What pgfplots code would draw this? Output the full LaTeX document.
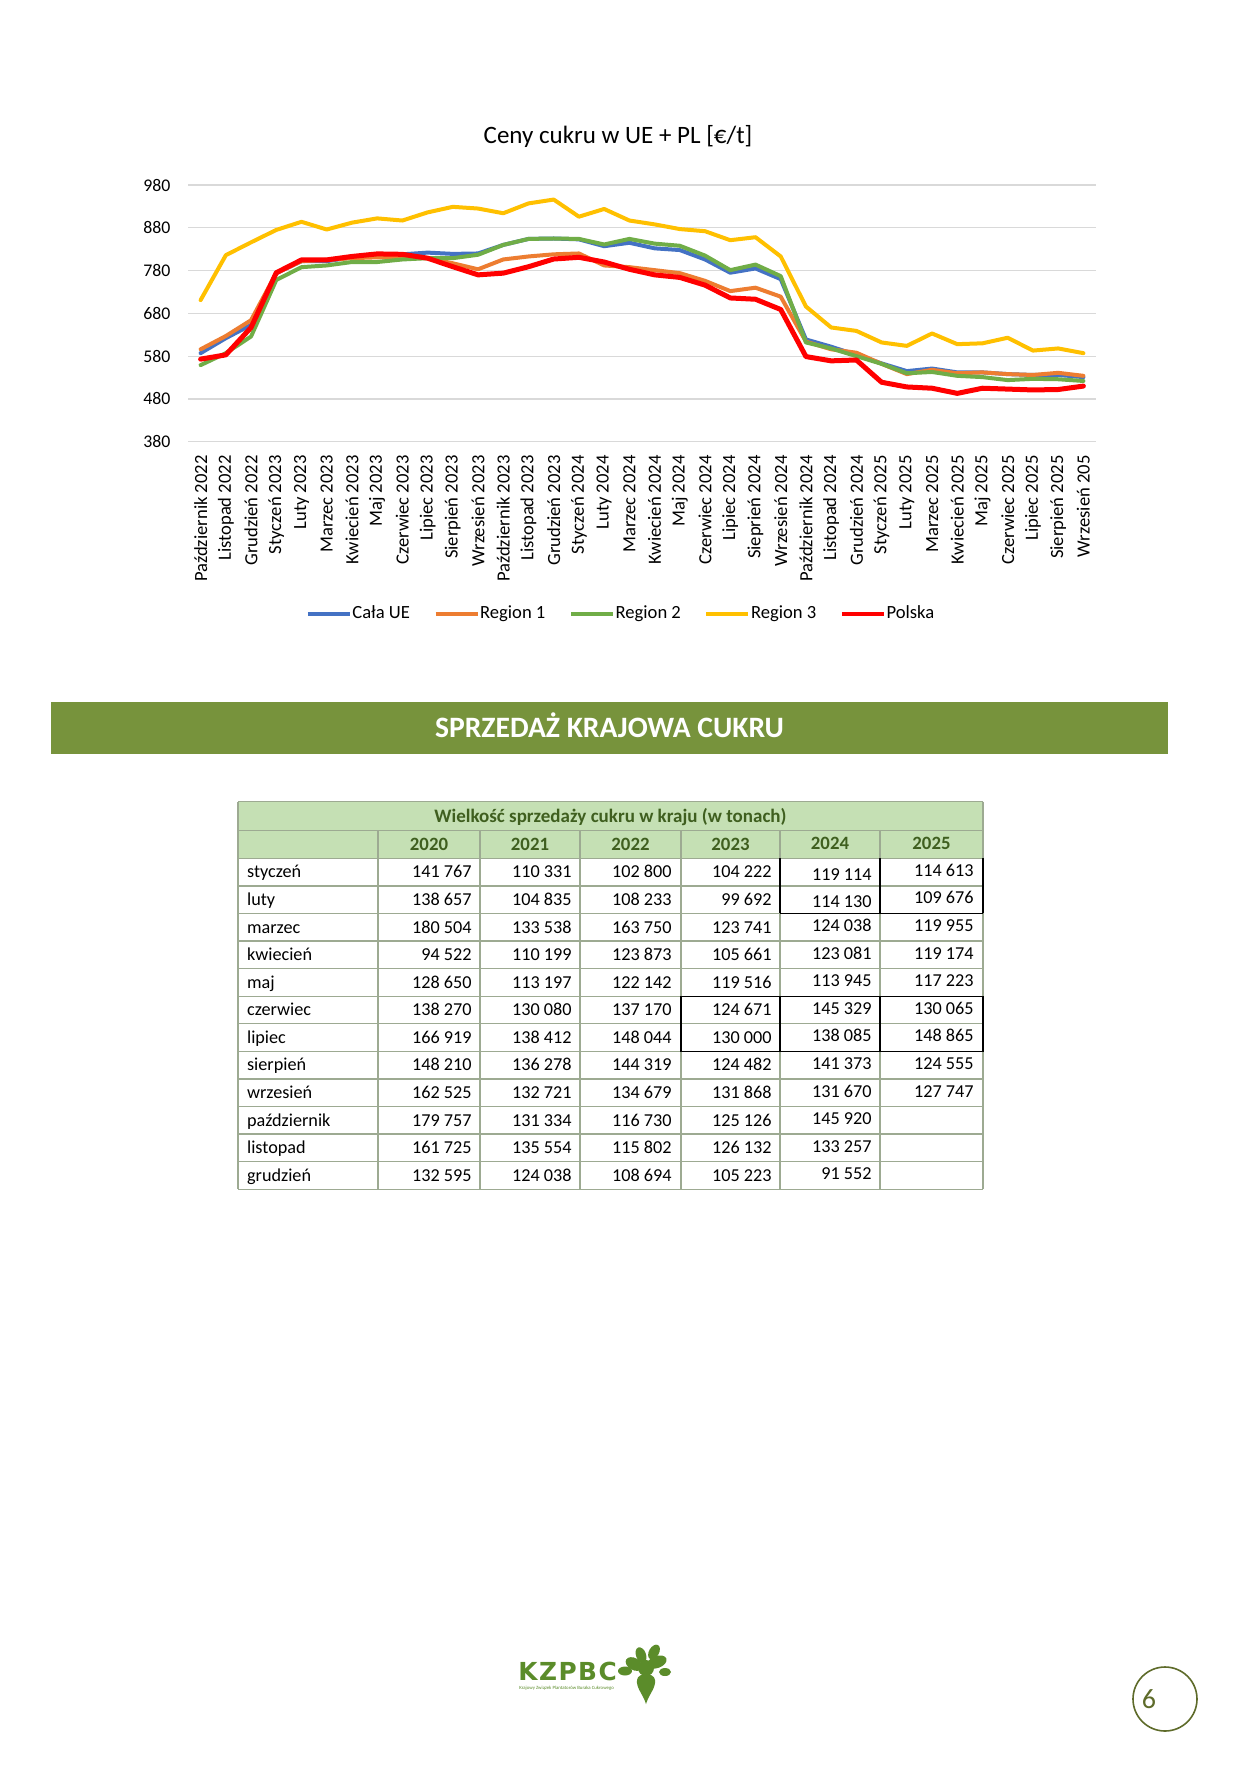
\documentclass[border=0pt]{standalone}
\usepackage{pgfplots}
\pgfplotsset{compat=1.18}
\usepackage{fontspec}
\setmainfont{Carlito}
\newfontfamily\logofont{DejaVu Sans}
\definecolor{cUE}{HTML}{4472C4}
\definecolor{cRa}{HTML}{ED7D31}
\definecolor{cRb}{HTML}{70AD47}
\definecolor{cRc}{HTML}{FFC000}
\definecolor{cPL}{HTML}{FF0000}
\definecolor{gridc}{HTML}{D9D9D9}
\definecolor{banner}{HTML}{77933C}
\definecolor{hdr}{HTML}{C5E0B4}
\definecolor{hdrtext}{HTML}{3F5F1F}
\definecolor{tborder}{HTML}{9DAA92}
\definecolor{logoc}{HTML}{5B8C2A}
\definecolor{pagec}{HTML}{5E6B2A}
\begin{document}
\begin{tikzpicture}
\begin{scope}[x=0.5pt,y=-0.5pt]
\fill[white] (0,0) rectangle (1250,1768);
\useasboundingbox (0,0) rectangle (1250,1768);
% chart title
\node[anchor=base,inner sep=0pt,font=\fontsize{12.5}{14}\selectfont] at (618,143) {Ceny cukru w UE + PL [€/t]};
% banner
\fill[banner] (51,702.3) rectangle (1168,754.3);
\node[anchor=base,inner sep=0pt,text=white,font=\fontsize{14.8}{16}\selectfont\bfseries] at (609.5,737) {SPRZEDAŻ KRAJOWA CUKRU};
% table
\fill[hdr] (238,801.7) rectangle (983,858.3);
\foreach \yy in {801.7,830.5,858.3} \draw[tborder,line width=0.7pt] (238,\yy) -- (983,\yy);
\foreach \r in {1,...,12} \draw[tborder,line width=0.7pt] (238,{858.3+27.58*\r}) -- (983,{858.3+27.58*\r});
\draw[tborder,line width=0.7pt] (238,801.7) -- (238,1189.3);
\draw[tborder,line width=0.7pt] (983,801.7) -- (983,1189.3);
\foreach \xx in {378,480,580,681,780,880} \draw[tborder,line width=0.7pt] (\xx,830.5) -- (\xx,1189.3);
% dark borders
\draw[black,line width=0.7pt] (780,858.3) -- (780,913.46) (880,858.3) -- (880,913.46) (983,858.3) -- (983,913.46) (780,913.46) -- (983,913.46);
\draw[black,line width=0.7pt] (681,996.2) rectangle (983,1051.36) (780,996.2) -- (780,1051.36) (880,996.2) -- (880,1051.36);
\node[anchor=base,inner sep=0pt,text=hdrtext,font=\fontsize{9.5}{11}\selectfont\bfseries] at (610.5,822) {Wielkość sprzedaży cukru w kraju (w tonach)};
\foreach \yr/\cx/\dy in {2020/429/0,2021/530/0,2022/630.5/0,2023/730.5/0,2024/830/-1.5,2025/931.5/-1.5}
  \node[anchor=base,inner sep=0pt,text=hdrtext,font=\fontsize{9.4}{11}\selectfont\bfseries] at (\cx,{850.5+\dy}) {\yr};
\foreach \m/\a/\b/\c/\d/\e/\f [count=\r from 0] in {
  styczeń/141 767/110 331/102 800/104 222/119 114/114 613,
  luty/138 657/104 835/108 233/99 692/114 130/109 676,
  marzec/180 504/133 538/163 750/123 741/124 038/119 955,
  kwiecień/94 522/110 199/123 873/105 661/123 081/119 174,
  maj/128 650/113 197/122 142/119 516/113 945/117 223,
  czerwiec/138 270/130 080/137 170/124 671/145 329/130 065,
  lipiec/166 919/138 412/148 044/130 000/138 085/148 865,
  sierpień/148 210/136 278/144 319/124 482/141 373/124 555,
  wrzesień/162 525/132 721/134 679/131 868/131 670/127 747,
  październik/179 757/131 334/116 730/125 126/145 920/,
  listopad/161 725/135 554/115 802/126 132/133 257/,
  grudzień/132 595/124 038/108 694/105 223/91 552/}
{
  \pgfmathsetmacro\by{858.3+27.58*(\r+0.5)+5.8}
  \pgfmathsetmacro\offe{\r<2 ? 2.5 : -1.5}
  \pgfmathsetmacro\offf{\r<2 ? -1.5 : -1.5}
  \begin{scope}[every node/.style={inner sep=0pt,font=\fontsize{9.1}{11}\selectfont}]
  \node[anchor=base west] at (246.7,\by) {\m};
  \node[anchor=base east] at (472,\by) {\a};
  \node[anchor=base east] at (572,\by) {\b};
  \node[anchor=base east] at (672,\by) {\c};
  \node[anchor=base east] at (772,\by) {\d};
  \node[anchor=base east] at (872,\by+\offe) {\e};
  \node[anchor=base east] at (974,\by+\offf) {\f};
  \end{scope}
}
% logo
\node[anchor=base west,inner sep=0pt,text=logoc,font=\logofont\bfseries\fontsize{12.4}{13}\selectfont\addfontfeature{LetterSpace=6}] at (518,1680) {KZPBC};
\node[anchor=base west,inner sep=0pt,text=logoc,font=\fontsize{2.4}{3}\selectfont] at (519,1689) {Krajowy Związek Plantatorów Buraka Cukrowego};
\begin{scope}[logoc]
\fill (646,1704) .. controls (643,1694) and (636,1688) .. (637,1680) .. controls (638,1672) and (654,1672) .. (655,1680) .. controls (656,1688) and (649,1694) .. (646,1704) -- cycle;
\fill[rotate around={-30:(634,1664)}] (634,1664) ellipse (9 and 6);
\fill[rotate around={20:(657,1662)}] (657,1662) ellipse (10 and 6);
\fill[rotate around={-70:(641,1655)}] (641,1655) ellipse (8 and 5);
\fill[rotate around={60:(654,1652)}] (654,1652) ellipse (8 and 5);
\fill (625,1671) ellipse (7 and 4.5);
\fill (665,1672) ellipse (6 and 4);
\fill (646,1668) ellipse (8 and 8);
\end{scope}
% page number
\draw[pagec,line width=0.8pt] (1165,1699) circle (32);
\node[anchor=base,inner sep=0pt,text=pagec,font=\fontsize{14}{16}\selectfont] at (1149,1708) {6};
\end{scope}
\begin{axis}[
  at={(94pt,-220.85pt)}, anchor=south west,
  scale only axis, width=454pt, height=128.35pt,
  xmin=-0.5, xmax=35.5, ymin=380, ymax=980,
  ytick={380,480,...,980},
  xtick={0,...,35},
  xticklabels={Październik 2022, Listopad 2022, Grudzień 2022, Styczeń 2023, Luty 2023, Marzec 2023, Kwiecień 2023, Maj 2023, Czerwiec 2023, Lipiec 2023, Sierpień 2023, Wrzesień 2023, Październik 2023, Listopad 2023, Grudzień 2023, Styczeń 2024, Luty 2024, Marzec 2024, Kwiecień 2024, Maj 2024, Czerwiec 2024, Lipiec 2024, Sieprień 2024, Wrzesień 2024, Październik 2024, Listopad 2024, Grudzień 2024, Styczeń 2025, Luty 2025, Marzec 2025, Kwiecień 2025, Maj 2025, Czerwiec 2025, Lipiec 2025, Sierpień 2025, Wrzesień 205},
  axis line style={draw=none},
  major tick style={draw=none},
  ymajorgrids, grid style={draw=gridc, line width=0.6pt},
  /pgf/number format/assume math mode=true,
  yticklabel style={font=\fontsize{8.9}{10}\selectfont, text=black, anchor=east, inner sep=0pt},
  xticklabel style={font=\fontsize{9.3}{10}\selectfont, text=black, rotate=90, anchor=east, inner sep=0pt},
  xticklabel shift=6.6pt, yticklabel shift=8.6pt,
  legend columns=5,
  legend style={at={(0.1293,-0.671)}, anchor=west, draw=none, fill=none, inner sep=0pt,
    font=\fontsize{9.3}{11}\selectfont, nodes={inner sep=0pt},
    /tikz/every odd column/.append style={column sep=0.3pt},
    /tikz/every even column/.append style={column sep=11.8pt}},
  legend image code/.code={\draw[#1, line width=2pt, line cap=butt] (0pt,0pt) -- (21pt,0pt);},
  every axis plot/.append style={line join=round, line cap=round, mark=none},
]
\addplot[cUE, line width=2pt] coordinates {(0,587) (1,622) (2,653) (3,774) (4,802) (5,802) (6,811) (7,816) (8,818) (9,822) (10,819) (11,820) (12,840) (13,854) (14,855) (15,853) (16,837) (17,845) (18,832) (19,828) (20,806) (21,775) (22,785) (23,760) (24,619) (25,602) (26,583) (27,563) (28,545) (29,551) (30,542) (31,542) (32,538) (33,536) (34,536) (35,531)};
\addlegendentry{Cała UE}
\addplot[cRa, line width=2pt] coordinates {(0,596) (1,627) (2,664) (3,774) (4,802) (5,805) (6,809) (7,811) (8,809) (9,809) (10,797) (11,783) (12,806) (13,813) (14,818) (15,820) (16,792) (17,788) (18,781) (19,774) (20,756) (21,732) (22,740) (23,719) (24,614) (25,596) (26,588) (27,562) (28,538) (29,548) (30,540) (31,542) (32,538) (33,536) (34,541) (35,534)};
\addlegendentry{Region 1}
\addplot[cRb, line width=2pt] coordinates {(0,559) (1,587) (2,626) (3,758) (4,788) (5,792) (6,800) (7,800) (8,806) (9,809) (10,809) (11,817) (12,840) (13,854) (14,855) (15,854) (16,841) (17,854) (18,843) (19,838) (20,815) (21,781) (22,794) (23,767) (24,612) (25,598) (26,580) (27,562) (28,540) (29,543) (30,534) (31,531) (32,524) (33,527) (34,526) (35,522)};
\addlegendentry{Region 2}
\addplot[cRc, line width=2pt] coordinates {(0,711) (1,816) (2,846) (3,875) (4,894) (5,876) (6,892) (7,902) (8,897) (9,916) (10,929) (11,925) (12,914) (13,937) (14,946) (15,906) (16,924) (17,897) (18,888) (19,877) (20,872) (21,851) (22,858) (23,813) (24,696) (25,647) (26,639) (27,612) (28,604) (29,633) (30,608) (31,610) (32,623) (33,593) (34,598) (35,587)};
\addlegendentry{Region 3}
\addplot[cPL, line width=2.5pt] coordinates {(0,573) (1,583) (2,647) (3,775) (4,805) (5,805) (6,813) (7,819) (8,818) (9,809) (10,789) (11,770) (12,774) (13,789) (14,807) (15,811) (16,800) (17,783) (18,770) (19,764) (20,746) (21,716) (22,713) (23,689) (24,579) (25,569) (26,571) (27,519) (28,508) (29,505) (30,493) (31,505) (32,503) (33,501) (34,502) (35,510)};
\addlegendentry{Polska}
\end{axis}
\end{tikzpicture}
\end{document}
